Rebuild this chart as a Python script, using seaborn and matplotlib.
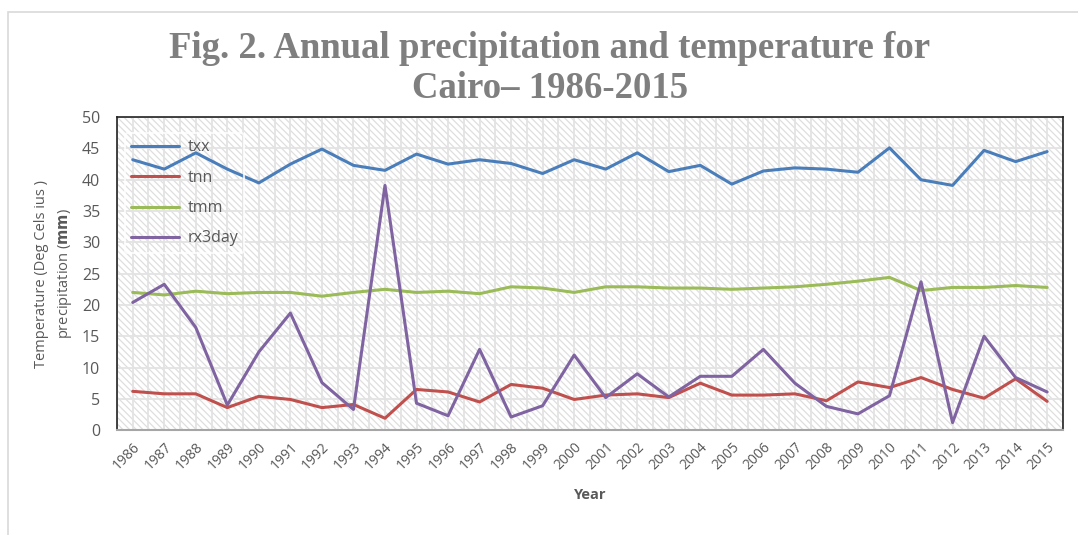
import numpy as np
import pandas as pd
import matplotlib
matplotlib.use("Agg")
import matplotlib.pyplot as plt
from matplotlib.patches import Rectangle
import seaborn as sns

years = list(range(1986, 2016))
txx = [43.2, 41.7, 44.3, 41.7, 39.5, 42.5, 44.9, 42.3, 41.5, 44.1,
       42.5, 43.2, 42.6, 41.0, 43.2, 41.7, 44.3, 41.3, 42.3, 39.3,
       41.4, 41.9, 41.7, 41.2, 45.1, 40.0, 39.1, 44.7, 42.9, 44.5]
tnn = [6.2, 5.8, 5.8, 3.6, 5.4, 4.9, 3.6, 4.1, 1.9, 6.5,
       6.1, 4.5, 7.3, 6.7, 4.9, 5.6, 5.8, 5.2, 7.5, 5.6,
       5.6, 5.8, 4.7, 7.7, 6.8, 8.4, 6.5, 5.1, 8.2, 4.6]
tmm = [22.0, 21.6, 22.2, 21.8, 22.0, 22.0, 21.4, 22.0, 22.5, 22.0,
       22.2, 21.8, 22.9, 22.7, 22.0, 22.9, 22.9, 22.7, 22.7, 22.5,
       22.7, 22.9, 23.3, 23.8, 24.4, 22.3, 22.8, 22.8, 23.1, 22.8]
rx3day = [20.4, 23.3, 16.4, 4.0, 12.5, 18.7, 7.6, 3.3, 39.1, 4.3,
          2.3, 12.9, 2.1, 3.9, 12.0, 5.2, 9.0, 5.3, 8.6, 8.6,
          12.9, 7.5, 3.8, 2.6, 5.5, 23.7, 1.2, 15.0, 8.4, 6.1]
series_names = ["txx", "tnn", "tmm", "rx3day"]
colors = ["#4a7ebb", "#c0504d", "#9bbb59", "#8064a2"]
yticks = list(range(0, 55, 5))

df = pd.DataFrame({
    "idx": list(range(len(years))) * 4,
    "value": txx + tnn + tmm + rx3day,
    "series": sum([[s] * len(years) for s in series_names], []),
})

sns.set_theme(style="white")
plt.rcParams["font.family"] = ["Open Sans", "DejaVu Sans"]

fig = plt.figure(figsize=(10.78, 5.35), dpi=100)
ax = fig.add_axes([0.1085, 0.196, 0.8775, 0.585])

# outer chart frame
fig.patches.append(Rectangle((8 / 1078, -0.1), 1.2, 1 - 12 / 535 + 0.1,
                             transform=fig.transFigure, fill=False,
                             edgecolor="#d9d9d9", linewidth=1.2, zorder=0))

# hatched plot-area background
plt.rcParams["hatch.linewidth"] = 0.9
ax.add_patch(Rectangle((0, 0), 1, 1, transform=ax.transAxes, facecolor="white",
                       edgecolor="#dedede", hatch="\\\\\\\\\\", linewidth=0, zorder=0))

for x in np.arange(-0.5, 30.0, 0.5):
    ax.axvline(x, color="#e3e3e3", lw=1.3, zorder=0.5)
for y in yticks:
    ax.axhline(y, color="#e3e3e3", lw=1.3, zorder=0.5)

sns.lineplot(data=df, x="idx", y="value", hue="series", hue_order=series_names,
             palette=colors, linewidth=2.2, ax=ax, zorder=3, legend=True)

ax.set_xlim(-0.5, 29.5)
ax.set_ylim(0, 50)
ax.set_yticks(yticks)
ax.set_yticklabels([str(v) for v in yticks], fontsize=11.5, color="#595959")
ax.set_xticks(range(len(years)))
ax.set_xticklabels([str(y) for y in years], rotation=45, ha="right",
                   rotation_mode="anchor", fontsize=10, color="#595959")
ax.tick_params(axis="y", length=0, pad=12)
ax.tick_params(axis="x", length=0, pad=7)

for s in ["top", "left", "right"]:
    ax.spines[s].set_color("#222222")
    ax.spines[s].set_linewidth(1.2)
ax.spines["bottom"].set_color("#a6a6a6")
ax.spines["bottom"].set_linewidth(1.5)

ax.set_xlabel("Year", fontsize=10.5, fontweight="bold", color="#595959", labelpad=11)
ax.set_ylabel("Temperature (Deg Cels ius )\nprecipitation ($\\mathbf{mm}$)",
              fontsize=10.5, color="#595959", labelpad=6, linespacing=1.55)

leg = ax.legend(loc="upper left", bbox_to_anchor=(0.0, 0.975), frameon=True,
                fontsize=11.5, handlelength=3.0, labelspacing=0.9,
                borderpad=0.4, handletextpad=0.5)
leg.set_zorder(5)
frame = leg.get_frame()
frame.set_facecolor("none")
frame.set_edgecolor("white")
frame.set_linewidth(1.5)
for t in leg.get_texts():
    t.set_color("#595959")

fig.text(550 / 1078, 1 - 48 / 535, "Fig. 2. Annual precipitation and temperature for",
         ha="center", va="center", fontsize=26.5, fontweight="bold",
         color="#7f7f7f", family="Liberation Serif")
fig.text(550 / 1078, 1 - 88 / 535, "Cairo\u2013 1986-2015",
         ha="center", va="center", fontsize=26.5, fontweight="bold",
         color="#7f7f7f", family="Liberation Serif")

fig.savefig("out.png", dpi=100)
